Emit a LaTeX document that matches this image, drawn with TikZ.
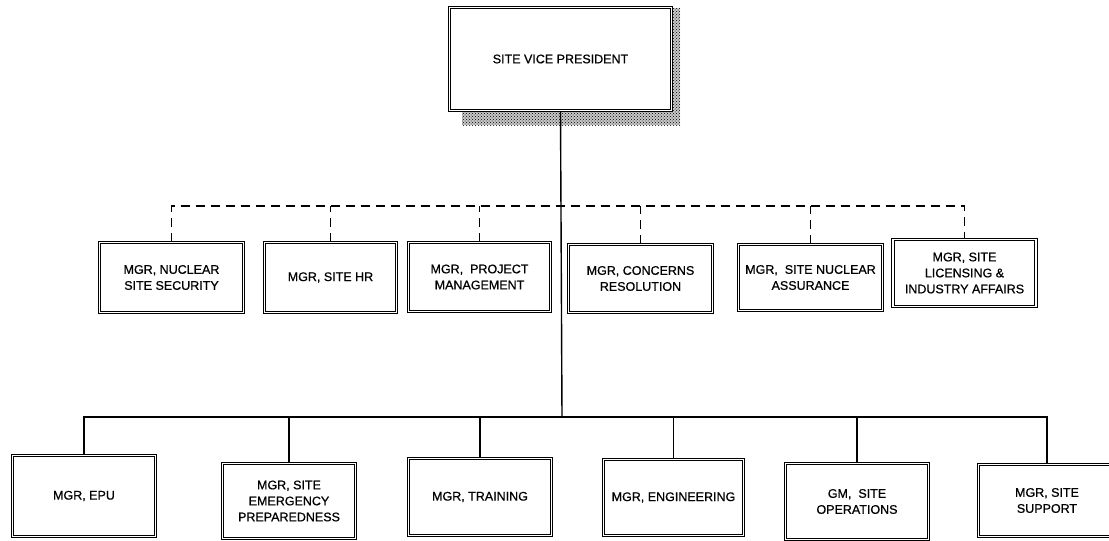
\documentclass[tikz,border=0pt]{standalone}
\usepackage{fontspec}
\setmainfont{Liberation Sans}[FakeBold=0.7]
\usetikzlibrary{patterns}
\begin{document}
\begin{tikzpicture}[x=1pt,y=-1pt,
    box/.style={draw, double, double distance=1.5pt, line width=1pt, fill=white,
      align=center, inner sep=0pt, font=\fontsize{12.5}{16}\selectfont},
    link/.style={line width=1.4pt},
    dashlink/.style={link, dash pattern=on 9pt off 6pt}]
  \useasboundingbox (0,0) rectangle (1109,541);
  % shadow of the top box
  \fill[black!22] (462,8) rectangle (680,125);
  \fill[pattern=crosshatch dots, pattern color=black] (462,8) rectangle (680,125);
  \node[box, minimum width=222, minimum height=103] (vp) at (560.5,59) {SITE VICE PRESIDENT};
  % staff row
  \node[box, minimum width=144, minimum height=70] (m1) at (171.5,277.5) {MGR, NUCLEAR\\SITE SECURITY};
  \node[box, minimum width=132, minimum height=70] (m2) at (330.5,277.5) {MGR, SITE HR};
  \node[box, minimum width=142, minimum height=69] (m3) at (479.5,277) {MGR,\ \ PROJECT\\MANAGEMENT};
  \node[box, minimum width=144, minimum height=68] (m4) at (640.5,278.5) {MGR, CONCERNS\\RESOLUTION};
  \node[box, minimum width=144, minimum height=66] (m5) at (810.5,277.5) {MGR,\ \ SITE NUCLEAR\\ASSURANCE};
  \node[box, minimum width=143, minimum height=67] (m6) at (964.5,273) {MGR, SITE\\LICENSING \&\\INDUSTRY AFFAIRS};
  % line row
  \node[box, minimum width=143, minimum height=81] (s1) at (84,496) {MGR, EPU};
  \node[box, minimum width=133, minimum height=75] (s2) at (289,501) {MGR, SITE\\EMERGENCY\\PREPAREDNESS};
  \node[box, minimum width=143, minimum height=77] (s3) at (480,497) {MGR, TRAINING};
  \node[box, minimum width=140, minimum height=76] (s4) at (673.5,497.5) {MGR, ENGINEERING};
  \node[box, minimum width=143, minimum height=76] (s5) at (857,501.5) {GM,\ \ SITE\\OPERATIONS};
  \node[box, minimum width=137, minimum height=72] (s6) at (1047,500.5) {MGR, SITE\\SUPPORT};
  \coordinate (dbar) at (562,206);
  \coordinate (sbar) at (562,417);
  \draw[link] (vp.south) -- (sbar);
  \draw[dashlink] (m1.north) -- (m1.north |- dbar) -- (m6.north |- dbar) -- (m6.north);
  \foreach \n in {2,...,5}
    \draw[dashlink] (m\n.north) -- (m\n.north |- dbar);
  \draw[link] (s1.north) -- (s1.north |- sbar) -- (s6.north |- sbar) -- (s6.north);
  \foreach \n in {2,...,5}
    \draw[link] (s\n.north) -- (s\n.north |- sbar);
\end{tikzpicture}
\end{document}
